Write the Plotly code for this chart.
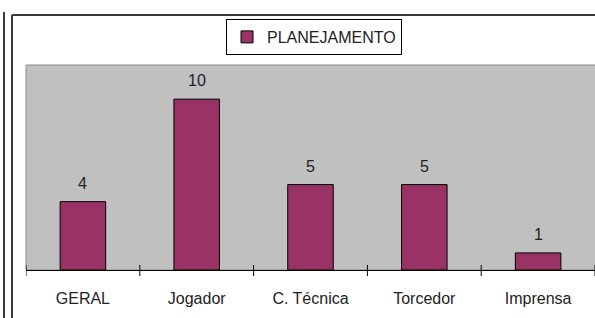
import plotly.graph_objects as go

categories = ["GERAL", "Jogador", "C. Técnica", "Torcedor", "Imprensa"]
values = [4, 10, 5, 5, 1]
series_name = "PLANEJAMENTO"

FONT = "Arial, Liberation Sans, sans-serif"
W, H = 595, 318
ML, MR, MT, MB = 26, 0, 65, 48
PW = W - ML - MR
PH = H - MT - MB


def px_x(px):
    return (px - ML) / PW


def px_y(py):
    return (H - MB - py) / PH


fig = go.Figure()
fig.add_trace(go.Bar(
    x=categories,
    y=values,
    name=series_name,
    width=0.4,
    marker=dict(color="#993366", line=dict(color="#000000", width=1)),
    showlegend=True,
))

# value labels above bars
for c, v in zip(categories, values):
    fig.add_annotation(x=c, y=v, text=str(v), showarrow=False,
                       yanchor="bottom", yshift=8,
                       font=dict(family=FONT, size=16, color="#222222"))

shapes = []
# tick marks crossing the category axis at category boundaries
for i in range(len(categories) + 1):
    shapes.append(dict(type="line", xref="x", yref="y domain",
                       x0=i - 0.5, x1=i - 0.5, y0=-6 / PH, y1=5 / PH,
                       line=dict(color="#000000", width=1)))
# plot area border
shapes.append(dict(type="rect", xref="paper", yref="paper", x0=0, x1=1.02, y0=0, y1=1,
                   line=dict(color="#8a8a8a", width=1), layer="below"))
# chart frame lines
frame = dict(color="#3a3a3a", width=2)
shapes.append(dict(type="line", xref="paper", yref="paper",
                   x0=px_x(12), x1=px_x(12), y0=px_y(15), y1=px_y(330), line=frame))
shapes.append(dict(type="line", xref="paper", yref="paper",
                   x0=px_x(12), x1=px_x(600), y0=px_y(15), y1=px_y(15), line=frame))
shapes.append(dict(type="line", xref="paper", yref="paper",
                   x0=px_x(4), x1=px_x(4), y0=px_y(12), y1=px_y(330), line=frame))

fig.update_layout(
    width=W, height=H,
    margin=dict(l=ML, r=MR, t=MT, b=MB, pad=0),
    paper_bgcolor="#ffffff",
    plot_bgcolor="#c0c0c0",
    font=dict(family=FONT, size=16, color="#222222"),
    bargap=0.6,
    shapes=shapes,
    legend=dict(
        x=px_x(226), y=px_y(19), xanchor="left", yanchor="top",
        bgcolor="#ffffff", bordercolor="#000000", borderwidth=1,
        font=dict(family=FONT, size=16, color="#222222"),
        itemwidth=30, tracegroupgap=0,
    ),
    xaxis=dict(
        showgrid=False, zeroline=False,
        showline=True, linecolor="#000000", linewidth=1,
        ticks="outside", ticklen=14, tickcolor="rgba(0,0,0,0)",
        tickfont=dict(family=FONT, size=16, color="#222222"),
        range=[-0.5, 4.5],
    ),
    yaxis=dict(
        range=[0, 12], showgrid=False, zeroline=False,
        showticklabels=False, ticks="", showline=False,
    ),
)

fig.write_html(
    "out.html",
    config={"displayModeBar": False},
    post_script="document.body.style.margin='0px';document.body.style.overflow='hidden';",
)
